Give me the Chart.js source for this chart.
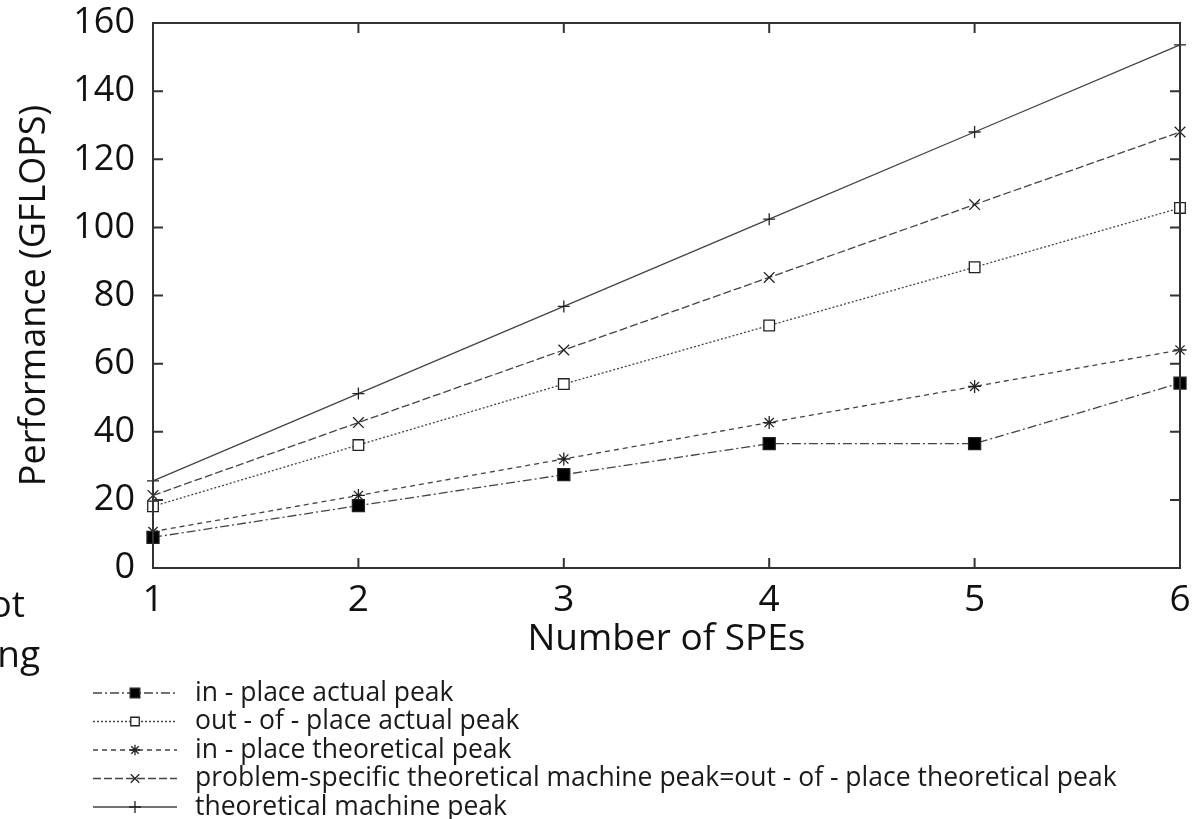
<!DOCTYPE html>
<html>
<head>
<meta charset="utf-8">
<script src="https://cdn.jsdelivr.net/npm/chart.js@4"></script>
<style>
  html, body { margin: 0; padding: 0; background: #fff; overflow: hidden; }
  #wrap { position: relative; width: 1202px; height: 819px; }
  .frag { position: absolute; font-family: "Open Sans", sans-serif; font-size: 37px; line-height: 37px; color: #111; text-align: right; }
</style>
</head>
<body>
<div id="wrap">
  <canvas id="perfChart"></canvas>
  <div class="frag" style="right:1177px; top:584px;">ot</div>
  <div class="frag" style="right:1162px; top:634px;">ng</div>
</div>
<script>
/* ── DATA ── */
const speCounts = [1, 2, 3, 4, 5, 6];
const inPlaceActual = [9.0, 18.3, 27.4, 36.5, 36.5, 54.3];
const outPlaceActual = [18.1, 36.1, 54.0, 71.2, 88.3, 105.7];
const inPlaceTheo = [10.7, 21.3, 32.0, 42.7, 53.3, 64.0];
const problemTheo = [21.3, 42.7, 64.0, 85.3, 106.7, 128.0];
const machinePeak = [25.6, 51.2, 76.8, 102.4, 128.0, 153.6];
const yTicks = [0, 20, 40, 60, 80, 100, 120, 140, 160];
const seriesNames = [
    "in - place actual peak",
    "out - of - place actual peak",
    "in - place theoretical peak",
    "problem-specific theoretical machine peak=out - of - place theoretical peak",
    "theoretical machine peak",
];

const FONT = "'Open Sans', sans-serif";
const INK = "#444";

const pts = (arr) => arr.map((v, i) => ({ x: speCounts[i], y: v }));

function series(label, values, dash, style, radius, fill) {
    return {
        label: label,
        data: pts(values),
        borderColor: INK,
        borderWidth: 1.3,
        borderDash: dash,
        pointStyle: style,
        pointRadius: radius,
        pointHoverRadius: radius,
        pointBackgroundColor: fill,
        pointBorderColor: "#222",
        pointBorderWidth: 1.3,
        tension: 0,
        clip: false,
    };
}

const datasets = [
    series(seriesNames[0], inPlaceActual, [9, 3, 2, 3], "rect", 8.5, "#000"),
    series(seriesNames[1], outPlaceActual, [2, 2], "rect", 7.5, "#fff"),
    series(seriesNames[2], inPlaceTheo, [5, 4], "star", 6.5, "#000"),
    series(seriesNames[3], problemTheo, [8, 3], "crossRot", 7.5, "#000"),
    series(seriesNames[4], machinePeak, [], "cross", 6, "#000"),
];

/* frame with inward ticks on all four sides */
const framePlugin = {
    id: "frame",
    afterDatasetsDraw(chart) {
        const { ctx, chartArea: a, scales } = chart;
        ctx.save();
        ctx.strokeStyle = "#333";
        ctx.lineWidth = 2;
        ctx.setLineDash([]);
        ctx.strokeRect(a.left, a.top, a.right - a.left, a.bottom - a.top);
        ctx.beginPath();
        speCounts.forEach((v) => {
            const px = scales.x.getPixelForValue(v);
            ctx.moveTo(px, a.bottom); ctx.lineTo(px, a.bottom - 10);
            ctx.moveTo(px, a.top); ctx.lineTo(px, a.top + 10);
        });
        yTicks.forEach((v) => {
            const py = scales.y.getPixelForValue(v);
            ctx.moveTo(a.left, py); ctx.lineTo(a.left + 10, py);
            ctx.moveTo(a.right, py); ctx.lineTo(a.right - 10, py);
        });
        ctx.stroke();
        ctx.restore();
    },
};

/* legend below the axes: line sample with marker in the middle */
const legendPlugin = {
    id: "bottomLegend",
    afterDraw(chart) {
        const { ctx } = chart;
        const x0 = 93, x1 = 177, tx = 195, y0 = 693, step = 28.5;
        ctx.save();
        chart.data.datasets.forEach((ds, i) => {
            const y = y0 + i * step;
            ctx.strokeStyle = ds.borderColor;
            ctx.lineWidth = ds.borderWidth;
            ctx.setLineDash(ds.borderDash);
            ctx.beginPath();
            ctx.moveTo(x0, y); ctx.lineTo(x1, y);
            ctx.stroke();
            ctx.setLineDash([]);
            ctx.fillStyle = ds.pointBackgroundColor;
            ctx.strokeStyle = ds.pointBorderColor;
            ctx.lineWidth = ds.pointBorderWidth;
            const r = ds.pointStyle === "cross" ? 6 : ds.pointRadius * 0.8;
            Chart.helpers.drawPoint(ctx, { pointStyle: ds.pointStyle, radius: r, rotation: 0, borderWidth: 1 }, (x0 + x1) / 2, y);
            ctx.fillStyle = "#1a1a1a";
            ctx.font = "26.5px " + FONT;
            ctx.textBaseline = "middle";
            ctx.fillText(ds.label, tx, y);
        });
        ctx.restore();
    },
};

new Chart(document.getElementById("perfChart").getContext("2d"), {
    type: "line",
    data: { datasets: datasets },
    options: {
        responsive: true,
        maintainAspectRatio: false,
        animation: false,
        layout: { padding: { top: 23, right: 22, left: 0, bottom: 157 } },
        plugins: { legend: { display: false }, tooltip: { enabled: false } },
        scales: {
            x: {
                type: "linear",
                min: 1,
                max: 6,
                grid: { display: false, drawTicks: false },
                border: { display: false },
                ticks: { stepSize: 1, color: "#111", padding: 10, font: { family: FONT, size: 37 } },
                title: { display: true, text: "Number of SPEs", color: "#111", padding: 0, font: { family: FONT, size: 37 } },
                afterFit: (s) => { s.height = 94; s.paddingLeft = 0; s.paddingRight = 0; },
            },
            y: {
                min: 0,
                max: 160,
                grid: { display: false, drawTicks: false },
                border: { display: false },
                ticks: { stepSize: 20, color: "#111", padding: 18, font: { family: FONT, size: 36 } },
                title: { display: true, text: "Performance (GFLOPS)", color: "#111", padding: { top: 13 }, font: { family: FONT, size: 36 } },
                afterFit: (s) => { s.width = 153; s.paddingTop = 0; s.paddingBottom = 0; },
            },
        },
    },
    plugins: [framePlugin, legendPlugin],
});
</script>
</body>
</html>
